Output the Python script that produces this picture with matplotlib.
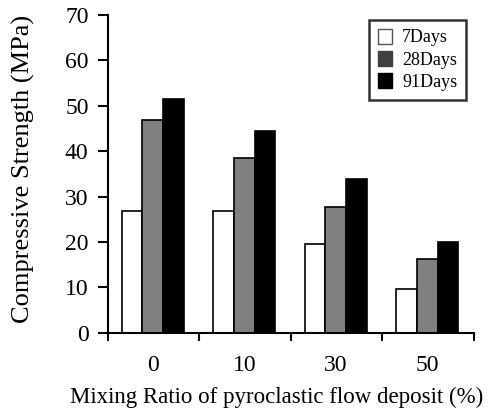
import numpy as np
import matplotlib
matplotlib.use("Agg")
from matplotlib import pyplot as plt

# compressive strength by mixing ratio and curing age
ratios = ["0", "10", "30", "50"]
days7 = [26.9, 26.9, 19.5, 9.6]
days28 = [46.8, 38.4, 27.7, 16.2]
days91 = [51.4, 44.4, 33.8, 20.0]
series_names = ["7Days", "28Days", "91Days"]

plt.rcParams["font.family"] = ["Liberation Serif", "DejaVu Serif"]

fig = plt.figure(figsize=(4.91, 4.12), dpi=100)
ax = fig.add_axes([0.22, 0.192, 0.745, 0.772])

x = np.arange(len(ratios)) + 0.49
w = 0.226
ax.bar(x - w, days7, w, color="white", edgecolor="black", linewidth=1.2)
ax.bar(x, days28, w, color="#808080", edgecolor="black", linewidth=1.2)
ax.bar(x + w, days91, w, color="black", edgecolor="black", linewidth=1.2)

ax.set_xlim(0, len(ratios))
ax.set_ylim(0, 70)
ax.set_yticks(np.arange(0, 71, 10))

# boundary ticks without labels, labels at the category centres
ax.set_xticks(np.arange(len(ratios) + 1))
ax.set_xticklabels([])
ax.set_xticks(x, minor=True)
ax.set_xticklabels(ratios, minor=True)
ax.tick_params(axis="x", which="major", direction="out", length=6, width=1.5)
ax.tick_params(axis="x", which="minor", length=0, pad=16, labelsize=17)
ax.tick_params(axis="y", direction="out", length=7, width=1.5, labelsize=17, pad=7)

for side in ["top", "right"]:
    ax.spines[side].set_visible(False)
for side in ["left", "bottom"]:
    ax.spines[side].set_linewidth(1.5)

ax.set_ylabel("Compressive Strength (MPa)", fontsize=19)
ax.yaxis.set_label_coords(-0.2, 0.517)
ax.set_xlabel("Mixing Ratio of pyroclastic flow deposit (%)", fontsize=16.5)
ax.xaxis.set_label_coords(0.462, -0.17)

handles = [
    plt.Rectangle((0, 0), 1, 1, facecolor="white", edgecolor="#555555", linewidth=1),
    plt.Rectangle((0, 0), 1, 1, facecolor="#404040", edgecolor="#404040", linewidth=1),
    plt.Rectangle((0, 0), 1, 1, facecolor="black", edgecolor="black", linewidth=1),
]
leg = ax.legend(handles, series_names, loc="upper right", bbox_to_anchor=(0.98, 0.985),
                fontsize=13, frameon=True, fancybox=False, handlelength=0.75,
                handleheight=0.9, handletextpad=0.6, labelspacing=0.25,
                borderpad=0.5, borderaxespad=0)
leg.get_frame().set_edgecolor("black")
leg.get_frame().set_linewidth(1.8)

fig.savefig("out.png", dpi=100)
